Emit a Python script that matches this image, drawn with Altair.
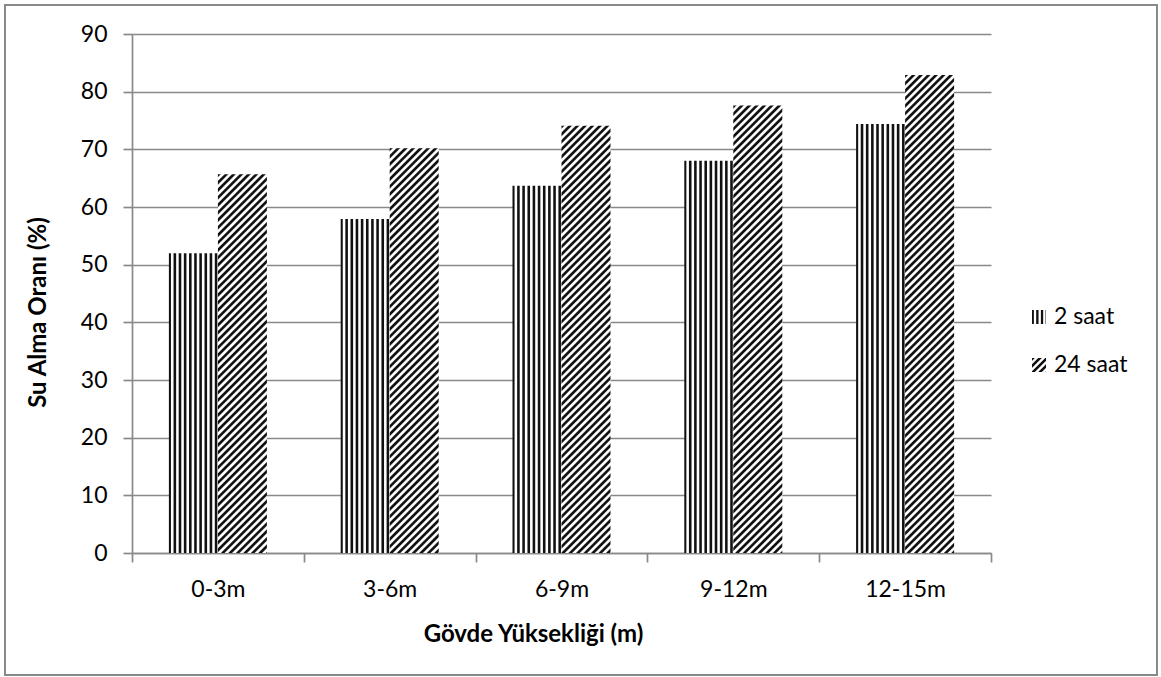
import altair as alt
import pandas as pd

# ---- data -------------------------------------------------------------
categories = ["0-3m", "3-6m", "6-9m", "9-12m", "12-15m"]
series = ["2 saat", "24 saat"]
values_2h = [52.0, 57.9, 63.7, 68.0, 74.4]
values_24h = [65.7, 70.2, 74.1, 77.6, 82.9]
y_ticks = [0, 10, 20, 30, 40, 50, 60, 70, 80, 90]

# ---- layout / style ---------------------------------------------------
W, H = 859, 519            # plot area
LEFT, TOP = 132, 34        # plot origin inside the 1161x677 canvas
RIGHT = 1161 - LEFT - W
BOTTOM = 677 - TOP - H
Y_MAX = 90
SUB_PAD = 0.753            # outer padding of the two bars inside a category
BAR_W = W / len(categories) / (2 + 2 * SUB_PAD)

FONT = "Lato"
LABEL_SIZE = 23
TITLE_SIZE = 24
GREY = "#898989"
INK = "#111111"
PAPER = "#ffffff"
PROFILE = [(0.0, INK), (0.3, INK), (0.5, PAPER), (0.8, PAPER)]


def stripe_stops(period, t_end):
    """Repeated black/white stops every `period` (gradient offset units)."""
    stops = []
    k = 0
    while k * period <= min(1.0, t_end + period):
        for f, c in PROFILE:
            off = k * period + f * period
            if off <= 1.0:
                stops.append({"offset": round(off, 6), "color": c})
        k += 1
    return stops


def vertical_stripes(n_periods):
    return {"gradient": "linear", "x1": 0, "y1": 0, "x2": 1, "y2": 0,
            "stops": stripe_stops(1.0 / n_periods, 1.0)}


def diagonal_stripes(w, h, spacing=7.5):
    # gradient vector (1, h/w) in box units -> iso-lines run at 45 degrees
    denom = w * w + h * h
    period = spacing * w / denom
    t_end = w * (w + h) / denom
    return {"gradient": "linear", "x1": 0, "y1": 0, "x2": 1, "y2": h / w,
            "stops": stripe_stops(period, t_end)}


x_enc = alt.X(
    "cat:N",
    sort=categories,
    scale=alt.Scale(domain=categories, paddingInner=0, paddingOuter=0),
    axis=alt.Axis(
        title="Gövde Yüksekliği (m)",
        labelAngle=0,
        tickBand="extent",
        tickSize=9,
        labelBaseline="alphabetic",
        labelPadding=34,
        titleX=401,
        titleY=88,
        titleAlign="center",
        titleBaseline="alphabetic",
    ),
)
xoff_enc = alt.XOffset("series:N", scale=alt.Scale(domain=series, paddingOuter=SUB_PAD, paddingInner=0))
y_enc = alt.Y(
    "val:Q",
    scale=alt.Scale(domain=[0, Y_MAX], nice=False),
    axis=alt.Axis(
        title="Su Alma Oranı (%)",
        values=y_ticks,
        tickSize=9,
        labelPadding=16,
        grid=True,
        titleX=-94,
        titleY=278,
        titleAlign="center",
        titleBaseline="middle",
    ),
)

df2 = pd.DataFrame({"cat": categories, "series": series[0], "val": values_2h})
bars_2h = alt.Chart(df2).mark_bar(fill=vertical_stripes(9.5), strokeWidth=0).encode(
    x=x_enc, xOffset=xoff_enc, y=y_enc
)

layers = [bars_2h]
for cat, v in zip(categories, values_24h):
    d = pd.DataFrame({"cat": [cat], "series": [series[1]], "val": [v]})
    h = v * H / Y_MAX
    layers.append(
        alt.Chart(d).mark_bar(fill=diagonal_stripes(BAR_W, h), strokeWidth=0).encode(
            x=x_enc, xOffset=xoff_enc, y=y_enc
        )
    )

# legend (drawn by hand so the swatches carry the stripe patterns)
one = pd.DataFrame({"a": [0]})
ICON = 14
leg_x = 1032 - LEFT
leg_y = [310 - TOP, 358 - TOP]
swatch_fills = [vertical_stripes(3), diagonal_stripes(ICON, ICON, 7.0)]
for label, ly, fill in zip(series, leg_y, swatch_fills):
    layers.append(
        alt.Chart(one).mark_rect(fill=fill, strokeWidth=0).encode(
            x=alt.value(leg_x), x2=alt.value(leg_x + ICON),
            y=alt.value(ly), y2=alt.value(ly + ICON),
        )
    )
    layers.append(
        alt.Chart(pd.DataFrame({"t": [label]})).mark_text(
            align="left", baseline="middle", font=FONT, fontSize=LABEL_SIZE, color="#000000"
        ).encode(x=alt.value(leg_x + ICON + 8), y=alt.value(ly + ICON / 2), text="t:N")
    )

# chart-area frame
layers.append(
    alt.Chart(one).mark_rect(filled=False, stroke=GREY, strokeWidth=2).encode(
        x=alt.value(5 - LEFT), x2=alt.value(1157 - LEFT),
        y=alt.value(5 - TOP), y2=alt.value(675 - TOP),
    )
)

chart = (
    alt.layer(*layers)
    .properties(
        width=W,
        height=H,
        autosize=alt.AutoSizeParams(type="none"),
        padding={"left": LEFT, "top": TOP, "right": RIGHT, "bottom": BOTTOM},
        background="#ffffff",
    )
    .configure_view(strokeWidth=0)
    .configure_axis(
        labelFont=FONT,
        labelFontSize=LABEL_SIZE,
        labelColor="#000000",
        titleFont=FONT,
        titleFontSize=TITLE_SIZE,
        titleFontWeight="bold",
        titleColor="#000000",
        domainColor=GREY,
        domainWidth=1.7,
        tickColor=GREY,
        tickWidth=1.7,
        gridColor=GREY,
        gridWidth=1.7,
    )
)

chart.save("out.html", embed_options={"renderer": "svg", "actions": False})
